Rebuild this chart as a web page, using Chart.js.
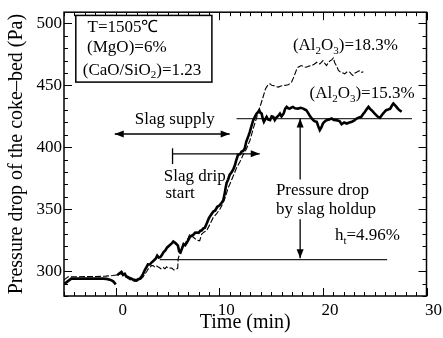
<!DOCTYPE html>
<html><head><meta charset="utf-8">
<script src="https://cdn.jsdelivr.net/npm/chart.js@4.4.1/dist/chart.umd.min.js"></script>
<style>html,body{margin:0;padding:0;background:#fff}canvas{display:block}</style>
</head><body>
<canvas id="c" width="443" height="338"></canvas>
<script>
// ---- data ----
const xTicks = [0, 10, 20, 30];
const yTicks = [300, 350, 400, 450, 500];

// (Al2O3)=15.3%  (thick solid)
const time153 = [-5.0,-4.3,-3,-2,-1.2,-0.9,-0.5,-0.25,0.0,0.08,
 0.13,0.3,0.55,0.7,0.87,1.0,1.19,1.35,1.51,1.75,2.0,2.15,2.32,2.5,2.64,2.8,2.96,3.1,3.29,3.45,3.67,3.85,4.0,4.15,4.3,4.45,4.6,4.8,4.96,5.2,5.4,5.55,5.7,5.85,6.0,6.12,6.25,6.4,6.55,6.7,6.85,7.0,7.15,7.3,7.5,7.65,7.8,8.0,8.15,8.3,8.45,8.6,8.8,9.0,9.2,9.4,9.6,9.8,10.0,10.2,10.37,10.5,10.6,10.7,10.85,11.0,11.15,11.33,11.5,11.6,11.8,12.0,12.15,12.3,12.46,12.6,12.8,12.95,13.1,13.27,13.45,13.6,13.75,13.85,13.95,14.08,14.2,14.3,14.45,14.56,14.7,14.9,15.05,15.2,15.35,15.5,15.7,15.85,16.0,16.2,16.35,16.5,16.65,16.8,16.95,17.1,17.3,17.6,17.85,18.1,18.25,18.4,18.55,18.7,18.9,19.06,19.2,19.4,19.55,19.7,19.85,20.0,20.2,20.36,20.6,20.84,21.05,21.3,21.6,21.8,22.05,22.3,22.55,22.8,23.0,23.25,23.5,23.7,23.9,24.06,24.25,24.4,24.55,24.7,24.85,25.0,25.25,25.5,25.65,25.8,25.95,26.1,26.3,26.5,26.65,26.8,26.95,27.1,27.25,27.4,27.6];
const dp153 = [289.5,294,294,294,294,293.8,293,291.8,289.4,null,
 296.6,298,299.4,297,297.9,296,295.2,294.5,293.9,293,292.6,293.5,293.9,296,297.9,301,303.2,305.5,305.4,307,308.6,310,312.6,311,311.3,313,315.2,317,319.2,321,322.4,324,323.2,322,320.6,316,315.2,318.5,321.9,321,323,325,327.5,328.6,329.5,331,331.2,331,332.5,333,334.5,335,339,343,345.5,348,349,352,353,355,357,362,367,371.2,374,377.9,379.5,381.9,385.5,388.6,393.9,394.5,396.6,397,399.2,404.6,409,412.6,417,421.9,425,427.2,428.5,429.9,428,427.2,423,420.6,423,424.6,422.5,421.9,425,424.6,422,424,425.5,427.2,425,427.2,431,432.6,431.5,431.2,432,432.6,431.5,431.2,431.8,431.2,430.5,429.9,428,425.9,423.5,421.9,421,420.6,417,413.9,416,419.2,421,421.9,422.5,423.2,422,421.9,421.1,418.6,420,419.2,420,420.6,421.5,423.2,424,424.6,427,428.6,431,432.6,431,429.9,428.5,427.2,425,423.8,425.5,427.2,428.5,429.9,430.5,431.2,433.5,435.3,434,432.6,431,429.9,428.6];

// (Al2O3)=18.3%  (thin dashed)
const time183 = [-5.0,-4.6,-4,-3,-2,-1,-0.3,0.2,0.45,0.6,0.8,1.0,1.2,1.4,1.6,1.8,2.0,2.2,2.4,2.6,2.8,3.0,3.15,3.3,3.45,3.6,3.75,3.9,4.05,4.2,4.35,4.57,4.75,4.9,5.05,5.2,5.4,5.6,5.86,5.98,6.02,6.3,6.67,7.0,7.15,7.4,7.7,7.9,8.1,8.3,8.5,8.76,9.1,9.4,9.7,10.05,10.3,10.5,10.7,10.85,11.0,11.2,11.45,11.66,12.0,12.3,12.6,12.95,13.27,13.6,13.9,14.2,14.45,14.7,14.9,15.05,15.2,15.45,15.7,15.95,16.2,16.45,16.65,16.97,17.15,17.3,17.45,17.6,17.9,18.15,18.4,18.65,18.9,19.15,19.4,19.55,19.7,19.85,20.0,20.2,20.35,20.5,20.7,20.85,21.0,21.15,21.3,21.5,21.7,21.95,22.1,22.35,22.6,22.75,22.9,23.1,23.25,23.45,23.6,23.75,23.9];
const dp183 = [293,295.5,295.5,295.6,295.6,296,296.5,297,298,297.5,296.5,295,294,293,292.5,292,292,292.5,293.5,295,297.5,300,302,303,304.5,304.5,303.5,304.6,303.5,303,302,303,302,303.5,302.5,302.6,302.5,301,301.8,302.5,310,317,322,327,329.9,328,326,325,324.6,330,331.5,332.6,338,343.2,346,350,354,358,363,367.3,370,374,379,383.4,388.6,393.9,398.5,405.5,415,424,432,440,447,450.5,451.2,450,449.9,449,448.6,449.5,449.9,450,450.4,452.6,456,459.2,462.5,464.6,465.9,465,464.6,465.5,465.9,467,468.6,467.5,467.2,468.5,469.9,467.5,465.9,468,469.9,470.5,472,468,465.9,462,460.6,460,459.2,461,460.6,459,457.9,460,460.6,461.5,461.9,460.5,461];

// reference levels
const holdLineX = [11.66, 28.6];
const holdLineY = [423.2, 423.2];
const baseLineX = [4.25, 26.2];
const baseLineY = [309.3, 309.3];

// ---- build ----
const pts = (xs, ys) => xs.map((x, i) => ({x: x, y: ys[i]}));
const SERIF = '"Liberation Serif","Times New Roman",Times,serif';

const notes = [
  {parts: [['T=1505'], ['℃']], x: -2.73, y: 496.6},
  {parts: [['(MgO)=6%']], x: -2.77, y: 480.6},
  {parts: [['(CaO/SiO'], ['2', 1], [')=1.23']], x: -3.19, y: 462.2},
  {parts: [['(Al'], ['2', 1], ['O'], ['3', 1], [')=18.3%']], x: 17.1, y: 481.9},
  {parts: [['(Al'], ['2', 1], ['O'], ['3', 1], [')=15.3%']], x: 18.7, y: 443.2},
  {parts: [['Slag supply']], x: 1.84, y: 422.7},
  {parts: [['Slag drip']], x: 4.64, y: 376.5},
  {parts: [['start']], x: 4.8, y: 362.5},
  {parts: [['Pressure drop']], x: 15.46, y: 365.4},
  {parts: [['by slag holdup']], x: 15.46, y: 349.4},
  {parts: [['h'], ['t', 1], ['=4.96%']], x: 21.16, y: 328.6}
];
const infoBox = {x1: -3.86, x2: 9.28, y1: 506.4, y2: 452.6};
const arrows = [
  {x1: -0.1, y1: 410.7, x2: 11.0, y2: 410.7, a: true, b: true},
  {x1: 5.48, y1: 394.7, x2: 13.9, y2: 394.7, a: false, b: true},
  {x1: 5.48, y1: 386.4, x2: 5.48, y2: 399.2, a: false, b: false},
  {x1: 17.8, y1: 374, x2: 17.8, y2: 423.2, a: false, b: true},
  {x1: 17.8, y1: 342, x2: 17.8, y2: 310.5, a: false, b: true}
];

function rich(ctx, parts, x, y, size) {
  ctx.textBaseline = 'middle';
  ctx.textAlign = 'left';
  let cx = x;
  for (const p of parts) {
    const sub = p[1];
    ctx.font = (sub ? Math.round(size * 0.66) : size) + 'px ' + SERIF;
    ctx.fillText(p[0], cx, sub ? y + size * 0.3 : y);
    cx += ctx.measureText(p[0]).width;
  }
}
function head(ctx, x, y, ang) {
  const L = 9, W = 3.5;
  ctx.beginPath();
  ctx.moveTo(x, y);
  ctx.lineTo(x - L * Math.cos(ang) + W * Math.sin(ang), y - L * Math.sin(ang) - W * Math.cos(ang));
  ctx.lineTo(x - L * Math.cos(ang) - W * Math.sin(ang), y - L * Math.sin(ang) + W * Math.cos(ang));
  ctx.closePath();
  ctx.fill();
}

const decor = {
  id: 'decor',
  afterDatasetsDraw(chart) {
    const {ctx, chartArea: ca, scales: {x: sx, y: sy}} = chart;
    ctx.save();
    ctx.strokeStyle = '#000';
    ctx.fillStyle = '#000';
    // frame
    ctx.lineWidth = 1.5;
    ctx.strokeRect(ca.left, ca.top, ca.right - ca.left, ca.bottom - ca.top);
    // inward ticks
    ctx.lineWidth = 1;
    ctx.beginPath();
    for (let v = -5; v <= 30; v++) {
      const px = Math.round(sx.getPixelForValue(v)) + 0.5;
      const L = v % 10 === 0 ? 8 : 4;
      ctx.moveTo(px, ca.bottom); ctx.lineTo(px, ca.bottom - L);
      ctx.moveTo(px, ca.top); ctx.lineTo(px, ca.top + L);
    }
    for (let v = 280; v <= 509; v += 10) {
      const py = Math.round(sy.getPixelForValue(v)) + 0.5;
      const L = v % 50 === 0 ? 8 : 4;
      ctx.moveTo(ca.left, py); ctx.lineTo(ca.left + L, py);
      ctx.moveTo(ca.right, py); ctx.lineTo(ca.right - L, py);
    }
    ctx.stroke();
    // info box
    ctx.lineWidth = 1.5;
    const bx1 = sx.getPixelForValue(infoBox.x1), bx2 = sx.getPixelForValue(infoBox.x2);
    const by1 = sy.getPixelForValue(infoBox.y1), by2 = sy.getPixelForValue(infoBox.y2);
    ctx.fillStyle = '#fff';
    ctx.fillRect(bx1, by1, bx2 - bx1, by2 - by1);
    ctx.strokeRect(bx1, by1, bx2 - bx1, by2 - by1);
    ctx.fillStyle = '#000';
    // arrows
    ctx.lineWidth = 1.3;
    for (const a of arrows) {
      const x1 = sx.getPixelForValue(a.x1), y1 = sy.getPixelForValue(a.y1);
      const x2 = sx.getPixelForValue(a.x2), y2 = sy.getPixelForValue(a.y2);
      ctx.beginPath(); ctx.moveTo(x1, y1); ctx.lineTo(x2, y2); ctx.stroke();
      const ang = Math.atan2(y2 - y1, x2 - x1);
      if (a.b) head(ctx, x2, y2, ang);
      if (a.a) head(ctx, x1, y1, ang + Math.PI);
    }
    // texts
    for (const n of notes) {
      rich(ctx, n.parts, sx.getPixelForValue(n.x), sy.getPixelForValue(n.y), 17);
    }
    ctx.restore();
  }
};

new Chart(document.getElementById('c'), {
  type: 'line',
  data: {
    datasets: [
      {data: pts(time153, dp153), borderColor: '#000', borderWidth: 2.6, pointRadius: 0, spanGaps: false, tension: 0},
      {data: pts(time183, dp183), borderColor: '#000', borderWidth: 1.1, borderDash: [6, 2], pointRadius: 0, tension: 0},
      {data: pts(holdLineX, holdLineY), borderColor: '#333', borderWidth: 1.2, pointRadius: 0},
      {data: pts(baseLineX, baseLineY), borderColor: '#222', borderWidth: 1.2, pointRadius: 0}
    ]
  },
  options: {
    responsive: false,
    animation: false,
    devicePixelRatio: 1,
    layout: {padding: {left: 0, right: 16.5, top: 9.3, bottom: 0}},
    plugins: {legend: {display: false}, tooltip: {enabled: false}},
    scales: {
      x: {
        type: 'linear', min: -5, max: 30,
        grid: {display: false, drawTicks: false},
        border: {display: false},
        afterBuildTicks: s => { s.ticks = xTicks.map(v => ({value: v})); },
        afterFit: s => { s.height = 42; },
        ticks: {color: '#000', font: {family: SERIF, size: 17}, padding: 4, labelOffset: 7, autoSkip: false, maxRotation: 0},
        title: {display: true, text: 'Time (min)', color: '#000', font: {family: SERIF, size: 20}, padding: {top: 0, bottom: 3}}
      },
      y: {
        type: 'linear', min: 280, max: 509,
        grid: {display: false, drawTicks: false},
        border: {display: false},
        afterBuildTicks: s => { s.ticks = yTicks.map(v => ({value: v})); },
        afterFit: s => { s.width = 64; },
        ticks: {color: '#000', font: {family: SERIF, size: 17}, padding: 2, autoSkip: false},
        title: {display: true, text: 'Pressure drop of the coke–bed (Pa)', color: '#000', font: {family: SERIF, size: 20}, padding: {top: 5, bottom: 0}}
      }
    }
  },
  plugins: [decor]
});
</script>
</body></html>
